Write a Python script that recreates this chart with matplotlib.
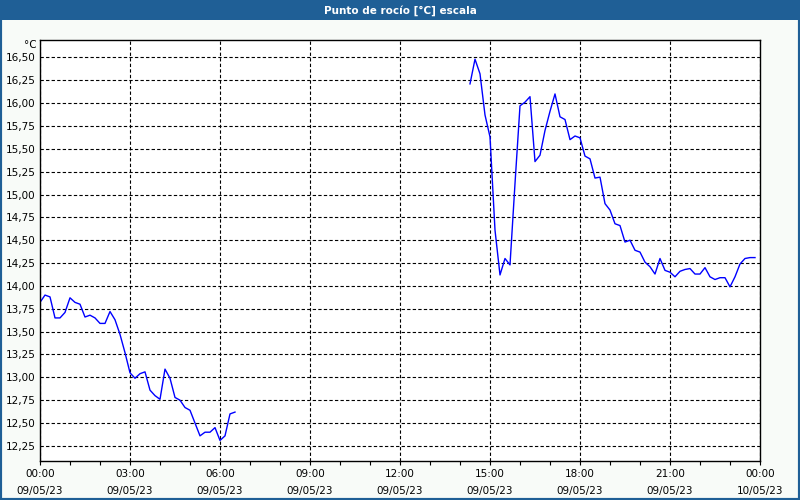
import matplotlib
matplotlib.use("Agg")
import matplotlib.pyplot as plt
import matplotlib.dates as mdates
from matplotlib.patches import Rectangle
from matplotlib.ticker import FuncFormatter
import pandas as pd

# dew point samples, 10 minute logger, two segments with a gap
morning_start = "2023-05-09 00:00"
morning_values = [
    13.82, 13.90, 13.88, 13.65, 13.65, 13.71, 13.87, 13.82, 13.80, 13.66,
    13.68, 13.65, 13.59, 13.59, 13.72, 13.63, 13.47, 13.27, 13.05, 12.99,
    13.04, 13.06, 12.86, 12.80, 12.76, 13.09, 12.99, 12.78, 12.75, 12.67,
    12.64, 12.50, 12.36, 12.40, 12.40, 12.45, 12.31, 12.36, 12.60, 12.62,
]

afternoon_start = "2023-05-09 14:20"
afternoon_values = [
    16.21, 16.48, 16.32, 15.87, 15.63, 14.61, 14.12, 14.30, 14.23, 15.12,
    15.97, 16.01, 16.07, 15.36, 15.43, 15.70, 15.91, 16.10, 15.85, 15.82,
    15.60, 15.64, 15.62, 15.42, 15.39, 15.18, 15.19, 14.90, 14.83, 14.68,
    14.66, 14.48, 14.50, 14.39, 14.37, 14.26, 14.21, 14.13, 14.30, 14.17,
    14.15, 14.10, 14.16, 14.18, 14.19, 14.13, 14.13, 14.20, 14.10, 14.07,
    14.09, 14.09, 13.99, 14.10, 14.24, 14.30, 14.31, 14.31,
]

y_ticks = [12.25, 12.50, 12.75, 13.00, 13.25, 13.50, 13.75, 14.00,
           14.25, 14.50, 14.75, 15.00, 15.25, 15.50, 15.75, 16.00,
           16.25, 16.50]

title = "Punto de rocío [°C] escala"
unit = "°C"

bar_blue = "#1F5F96"
bg = "#F8FBF8"

morning = pd.Series(
    morning_values,
    index=pd.date_range(morning_start, periods=len(morning_values), freq="10min"),
)
afternoon = pd.Series(
    afternoon_values,
    index=pd.date_range(afternoon_start, periods=len(afternoon_values), freq="10min"),
)

fig = plt.figure(figsize=(8, 5), dpi=100, facecolor=bg)

# title bar and window frame
fig.patches.append(Rectangle((0, 0.96), 1, 0.04, transform=fig.transFigure,
                             facecolor=bar_blue, edgecolor="none", zorder=0))
fig.patches.append(Rectangle((0, 0), 1, 1, transform=fig.transFigure,
                             facecolor="none", edgecolor=bar_blue, lw=3, zorder=5))
fig.text(0.5, 0.979, title, color="white", fontsize=7.5, fontweight="bold",
         ha="center", va="center")

ax = fig.add_axes([0.05, 0.078, 0.9, 0.842])
ax.set_facecolor("white")

ax.plot(morning.index, morning.values, color="#0000FF", lw=1)
ax.plot(afternoon.index, afternoon.values, color="#0000FF", lw=1)

ax.set_xlim(pd.Timestamp("2023-05-09 00:00"), pd.Timestamp("2023-05-10 00:00"))
ax.set_ylim(12.085, 16.69)

ax.xaxis.set_major_locator(mdates.HourLocator(byhour=range(0, 24, 3)))
ax.xaxis.set_minor_locator(mdates.HourLocator())
ax.xaxis.set_major_formatter(mdates.DateFormatter("%H:%M\n%d/%m/%y"))

ax.set_yticks(y_ticks)
ax.yaxis.set_major_formatter(FuncFormatter(lambda v, p: f"{v:.2f}".replace(".", ",")))

ax.grid(True, which="major", color="black", linestyle=(0, (3, 2)), lw=0.8)

ax.tick_params(axis="y", length=0, pad=3, labelsize=7.5, colors="black")
ax.tick_params(axis="x", which="both", direction="out", length=3, width=0.8,
               pad=3, labelsize=7.5)
for lbl in ax.get_xticklabels():
    lbl.set_linespacing(1.8)

for s in ax.spines.values():
    s.set_linewidth(1)
    s.set_color("black")

ax.text(-0.004, 1.0, unit, transform=ax.transAxes, ha="right", va="top",
        fontsize=7.5)

fig.savefig("out.png", dpi=100, facecolor=bg)
